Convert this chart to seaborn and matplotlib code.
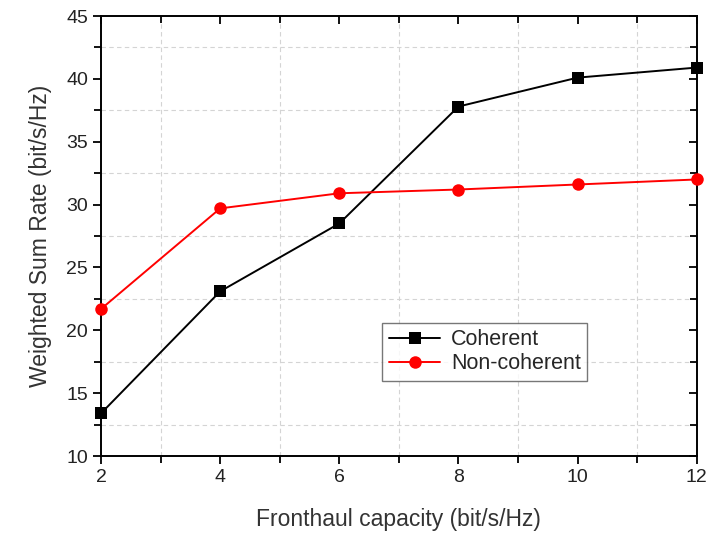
import pandas as pd
import numpy as np
import matplotlib
matplotlib.use("Agg")
import matplotlib.pyplot as plt
import seaborn as sns
from matplotlib.ticker import MultipleLocator

# data
capacity = [2, 4, 6, 8, 10, 12]
coherent = [13.4, 23.1, 28.5, 37.8, 40.1, 40.9]
non_coherent = [21.7, 29.7, 30.9, 31.2, 31.6, 32.0]

sns.set_style("white")
plt.rcParams['font.family'] = ['Liberation Sans', 'DejaVu Sans']

df = pd.DataFrame({
    'Capacity': capacity * 2,
    'Rate': coherent + non_coherent,
    'Scheme': ['Coherent'] * len(capacity) + ['Non-coherent'] * len(capacity),
})

fig = plt.figure(figsize=(7.22, 5.34), dpi=100)
ax = fig.add_axes([0.140, 0.146, 0.825, 0.824])

sns.lineplot(data=df, x='Capacity', y='Rate', hue='Scheme', style='Scheme',
             palette={'Coherent': 'black', 'Non-coherent': 'red'},
             markers={'Coherent': 's', 'Non-coherent': 'o'},
             dashes=False, markersize=9, linewidth=1.4, markeredgewidth=0,
             ax=ax, clip_on=False, zorder=3)

ax.set_xlim(2, 12)
ax.set_ylim(10, 45)
ax.xaxis.set_major_locator(MultipleLocator(2))
ax.xaxis.set_minor_locator(MultipleLocator(1))
ax.yaxis.set_major_locator(MultipleLocator(5))
ax.yaxis.set_minor_locator(MultipleLocator(2.5))

# grid only on the minor ticks, dashed and light
ax.grid(False)
ax.grid(which='minor', color='#d4d4d4', linestyle=(0, (4, 3)), linewidth=0.8)

for s in ax.spines.values():
    s.set_color('black')
    s.set_linewidth(1.4)

ax.tick_params(which='both', direction='out', color='black', width=1.3,
               labelsize=14, labelcolor='#222222',
               left=True, bottom=True, top=True, right=True)
ax.tick_params(which='major', length=6)
ax.tick_params(which='minor', length=5)

ax.set_xlabel('Fronthaul capacity (bit/s/Hz)', fontsize=16.5, color='#333333', labelpad=16)
ax.set_ylabel('Weighted Sum Rate (bit/s/Hz)', fontsize=16.5, color='#333333', labelpad=10)

# ticks on top/right point inward
for t in ax.xaxis.get_ticklines(minor=False)[1::2] + ax.xaxis.get_ticklines(minor=True)[1::2]:
    t.set_marker(3)
for t in ax.yaxis.get_ticklines(minor=False)[1::2] + ax.yaxis.get_ticklines(minor=True)[1::2]:
    t.set_marker(0)

leg = ax.legend(loc='upper left', bbox_to_anchor=(0.472, 0.303), fontsize=15.5,
                frameon=True, fancybox=False, edgecolor='#555555',
                handlelength=2.4, borderpad=0.3, labelspacing=0.15, handletextpad=0.5,
                borderaxespad=0)
leg.get_frame().set_linewidth(1.0)

fig.savefig('out.png', dpi=100)
